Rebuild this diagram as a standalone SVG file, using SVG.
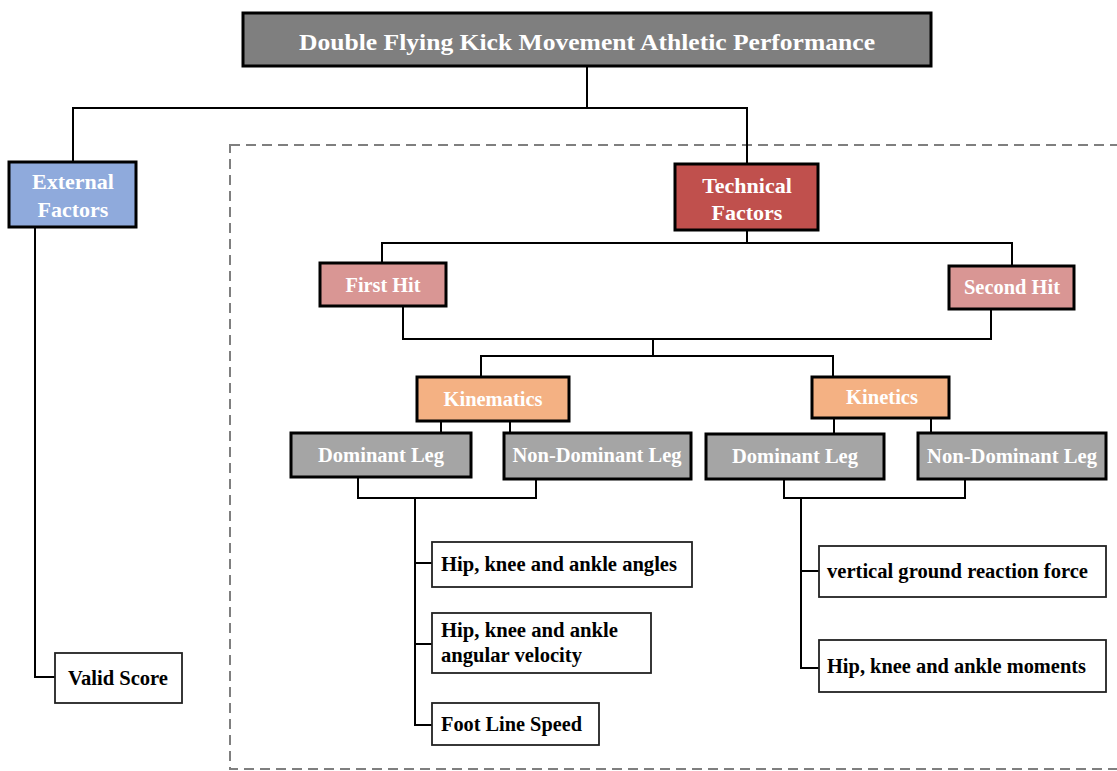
<svg xmlns="http://www.w3.org/2000/svg" width="1117" height="771" viewBox="0 0 1117 771">
<style>
.n{stroke:#000;stroke-width:3}
.leaf{fill:#fff;stroke:#222;stroke-width:1.8}
.w{fill:#fff;font-family:"Liberation Serif","Times New Roman",serif;font-weight:bold;text-anchor:middle}
.b{fill:#000;font-family:"Liberation Serif","Times New Roman",serif;font-weight:bold}
.c{fill:none;stroke:#000;stroke-width:2}
</style>
<rect width="1117" height="771" fill="#fff"/>
<rect x="230" y="145" width="900" height="624" fill="none" stroke="#7f7f7f" stroke-width="2" stroke-dasharray="10 6"/>
<g id="connectors" class="c">
<polyline points="587,67 587,108"/>
<polyline points="73,162 73,108 747,108 747,164"/>
<polyline points="35,228 35,677 55,677"/>
<polyline points="747,230 747,243"/>
<polyline points="382,263 382,243 1012,243 1012,266"/>
<polyline points="403,306 403,339 991,339 991,309"/>
<polyline points="653,339 653,356"/>
<polyline points="481,377 481,356 833,356 833,377"/>
<polyline points="441,421 441,433"/>
<polyline points="510,421 510,433"/>
<polyline points="834,418 834,434"/>
<polyline points="931,418 931,433"/>
<polyline points="358,477 358,498 536,498 536,479"/>
<polyline points="784,479 784,498 965,498 965,479"/>
<polyline points="415,498 415,725 432,725"/>
<polyline points="415,563 432,563"/>
<polyline points="415,644 432,644"/>
<polyline points="801,498 801,668 819,668"/>
<polyline points="801,571 819,571"/>
</g>
<g id="title"><rect class="n" x="243" y="13" width="688" height="53" fill="#7f7f7f"/><text class="w" x="587" y="50" font-size="24" textLength="576" lengthAdjust="spacingAndGlyphs">Double Flying Kick Movement Athletic Performance</text></g>
<g id="external"><rect class="n" x="9" y="162" width="127" height="65" fill="#8faadc"/><text class="w" x="73" y="189" font-size="22">External</text><text class="w" x="73" y="217" font-size="22">Factors</text></g>
<g id="validscore"><rect class="leaf" x="55" y="653" width="127" height="50"/><text class="b" x="68" y="685" font-size="20" textLength="100" lengthAdjust="spacingAndGlyphs">Valid Score</text></g>
<g id="technical"><rect class="n" x="675" y="164" width="143" height="66" fill="#c0504d"/><text class="w" x="747" y="193" font-size="22">Technical</text><text class="w" x="747" y="220" font-size="22">Factors</text></g>
<g id="firsthit"><rect class="n" x="320" y="263" width="126" height="43" fill="#d99694"/><text class="w" x="383" y="292" font-size="20" textLength="75" lengthAdjust="spacingAndGlyphs">First Hit</text></g>
<g id="secondhit"><rect class="n" x="949" y="266" width="125" height="43" fill="#d99694"/><text class="w" x="1012" y="294" font-size="20" textLength="96" lengthAdjust="spacingAndGlyphs">Second Hit</text></g>
<g id="kinematics"><rect class="n" x="417" y="377" width="152" height="44" fill="#f4b183"/><text class="w" x="493" y="406" font-size="20" textLength="99" lengthAdjust="spacingAndGlyphs">Kinematics</text></g>
<g id="kinetics"><rect class="n" x="812" y="377" width="137" height="41" fill="#f4b183"/><text class="w" x="882" y="404" font-size="20" textLength="72" lengthAdjust="spacingAndGlyphs">Kinetics</text></g>
<g id="kmDom"><rect class="n" x="291" y="433" width="180" height="44" fill="#a5a5a5"/><text class="w" x="381" y="462" font-size="20" textLength="126" lengthAdjust="spacingAndGlyphs">Dominant Leg</text></g>
<g id="kmNon"><rect class="n" x="504" y="433" width="187" height="46" fill="#a5a5a5"/><text class="w" x="597" y="462" font-size="20" textLength="169" lengthAdjust="spacingAndGlyphs">Non-Dominant Leg</text></g>
<g id="ktDom"><rect class="n" x="706" y="434" width="178" height="45" fill="#a5a5a5"/><text class="w" x="795" y="463" font-size="20" textLength="126" lengthAdjust="spacingAndGlyphs">Dominant Leg</text></g>
<g id="ktNon"><rect class="n" x="918" y="433" width="188" height="46" fill="#a5a5a5"/><text class="w" x="1012" y="463" font-size="20" textLength="170" lengthAdjust="spacingAndGlyphs">Non-Dominant Leg</text></g>
<g id="angles"><rect class="leaf" x="432" y="542" width="260" height="45"/><text class="b" x="441" y="571" font-size="20" textLength="236" lengthAdjust="spacingAndGlyphs">Hip, knee and ankle angles</text></g>
<g id="angvel"><rect class="leaf" x="432" y="613" width="219" height="60"/><text class="b" x="441" y="637" font-size="20" textLength="177" lengthAdjust="spacingAndGlyphs">Hip, knee and ankle</text><text class="b" x="441" y="662" font-size="20" textLength="141" lengthAdjust="spacingAndGlyphs">angular velocity</text></g>
<g id="footspeed"><rect class="leaf" x="432" y="703" width="167" height="42"/><text class="b" x="441" y="731" font-size="20" textLength="141" lengthAdjust="spacingAndGlyphs">Foot Line Speed</text></g>
<g id="vgrf"><rect class="leaf" x="819" y="546" width="287" height="51"/><text class="b" x="827" y="578" font-size="20" textLength="261" lengthAdjust="spacingAndGlyphs">vertical ground reaction force</text></g>
<g id="moments"><rect class="leaf" x="819" y="640" width="287" height="52"/><text class="b" x="827" y="673" font-size="20" textLength="259" lengthAdjust="spacingAndGlyphs">Hip, knee and ankle moments</text></g>
</svg>
